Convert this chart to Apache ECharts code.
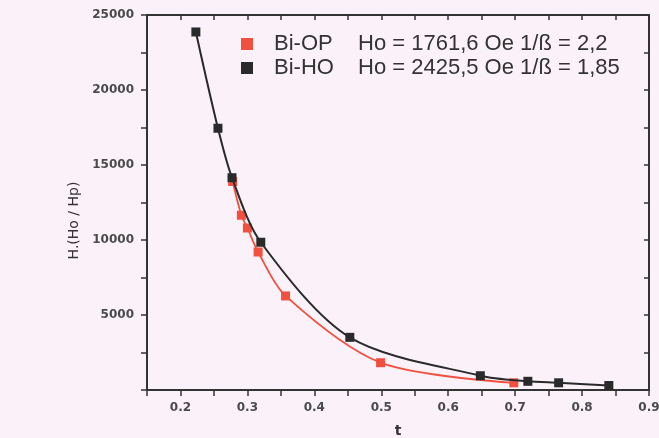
<!DOCTYPE html>
<html>
<head>
<meta charset="utf-8">
<script src="https://cdn.jsdelivr.net/npm/echarts@6/dist/echarts.min.js"></script>
<style>
html,body{margin:0;padding:0;background:#faf1f9;}
#c{width:659px;height:438px;}
</style>
</head>
<body>
<div id="c"></div>
<script>
const seriesNames = ['Bi-OP', 'Bi-HO'];
const legendParams = ['Ho = 1761,6 Oe 1/ß = 2,2', 'Ho = 2425,5 Oe 1/ß = 1,85'];
const biOP = [[0.278, 13900], [0.291, 11650], [0.300, 10800], [0.316, 9200], [0.357, 6270], [0.499, 1820], [0.698, 480]];
const biHO = [[0.223, 23870], [0.256, 17450], [0.277, 14150], [0.320, 9850], [0.453, 3510], [0.648, 950], [0.719, 580], [0.765, 480], [0.840, 300]];
const xTicks = [0.2, 0.3, 0.4, 0.5, 0.6, 0.7, 0.8, 0.9];
const yTicks = [5000, 10000, 15000, 20000, 25000];

const axisColor = '#333';
const labelStyle = {color: '#4a4a4a', fontFamily: 'DejaVu Sans', fontSize: 12, fontWeight: 'bold'};
const chart = echarts.init(document.getElementById('c'));
chart.setOption({
  backgroundColor: '#faf1f9',
  animation: false,
  grid: {left: 147, right: 10, top: 15, bottom: 48, outerBoundsMode: 'none', containLabel: false},
  legend: {
    left: 236, top: 28, orient: 'vertical', itemGap: 2,
    itemWidth: 12, itemHeight: 12, icon: 'rect',
    data: seriesNames,
    textStyle: {color: '#333', fontFamily: 'Liberation Sans', fontSize: 22,
      rich: {s: {width: 16}, n: {width: 84, fontSize: 22, color: '#333', fontFamily: 'Liberation Sans'},
             p: {fontSize: 22, color: '#333', fontFamily: 'Liberation Sans'}}},
    formatter: function (name) { return '{s|}{n|' + name + '}{p|' + legendParams[seriesNames.indexOf(name)] + '}'; }
  },
  xAxis: [{
    type: 'value', min: 0.15, max: 0.9, interval: 0.05,
    name: 't', nameLocation: 'middle', nameGap: 34,
    nameTextStyle: {color: '#333', fontFamily: 'DejaVu Sans', fontSize: 14, fontWeight: 'bold'},
    axisLine: {show: true, onZero: false, lineStyle: {color: axisColor, width: 2}},
    axisTick: {show: true, inside: false, length: 6, lineStyle: {color: axisColor, width: 1.5}},
    axisLabel: Object.assign({margin: 12, formatter: function (v) {
      const r = Math.round(v * 100) / 100;
      return xTicks.some(t => Math.abs(t - r) < 1e-6) ? r.toFixed(1) : '';
    }}, labelStyle),
    splitLine: {show: false}
  }, {
    type: 'value', position: 'top', min: 0.15, max: 0.9, interval: 0.05,
    axisLine: {show: true, onZero: false, lineStyle: {color: axisColor, width: 2}},
    axisTick: {show: true, inside: true, length: 5, lineStyle: {color: axisColor, width: 1.5}},
    axisLabel: {show: false}, splitLine: {show: false}
  }],
  yAxis: [{
    type: 'value', min: 0, max: 25000, interval: 2500,
    name: 'H.(Ho / Hp)', nameLocation: 'middle', nameGap: 66,
    nameTextStyle: {color: '#333', fontFamily: 'DejaVu Sans', fontSize: 14, padding: [0, 36, 0, 0]},
    axisLine: {show: true, onZero: false, lineStyle: {color: axisColor, width: 2}},
    axisTick: {show: true, inside: false, length: 6, lineStyle: {color: axisColor, width: 1.5}},
    axisLabel: Object.assign({margin: 13, formatter: function (v) {
      return yTicks.indexOf(v) >= 0 ? String(v) : '';
    }}, labelStyle),
    splitLine: {show: false}
  }, {
    type: 'value', position: 'right', min: 0, max: 25000, interval: 2500,
    axisLine: {show: true, onZero: false, lineStyle: {color: axisColor, width: 2}},
    axisTick: {show: true, inside: true, length: 5, lineStyle: {color: axisColor, width: 1.5}},
    axisLabel: {show: false}, splitLine: {show: false}
  }],
  series: [{
    name: 'Bi-OP', type: 'line', data: biOP, smooth: 0.3,
    symbol: 'rect', symbolSize: 9, z: 2,
    itemStyle: {color: '#f2503f'}, lineStyle: {color: '#f2503f', width: 1.8}
  }, {
    name: 'Bi-HO', type: 'line', data: biHO, smooth: 0.3,
    symbol: 'rect', symbolSize: 9, z: 3,
    itemStyle: {color: '#2a2a2a'}, lineStyle: {color: '#2a2a2a', width: 2}
  }]
});
</script>
</body>
</html>
